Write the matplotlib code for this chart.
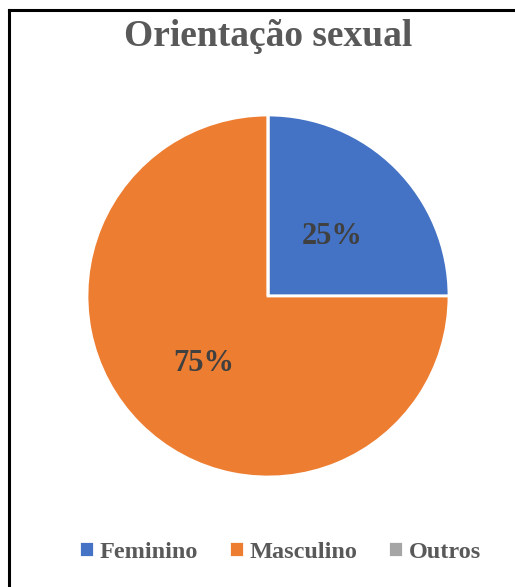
import matplotlib
matplotlib.use("Agg")
import matplotlib.pyplot as plt
from matplotlib.lines import Line2D

categories = ["Feminino", "Masculino", "Outros"]
values = [25, 75, 0]
colors = ["#4472C4", "#ED7D31", "#A5A5A5"]
title = "Orientação sexual"

W, H = 515, 587
fig = plt.figure(figsize=(W/100, H/100), dpi=100)
serif = ["Liberation Serif", "DejaVu Serif"]

# border (top and left lines)
fig.add_artist(Line2D([9/W, 9/W], [0, 1-10/H], color="black", lw=2.2, transform=fig.transFigure))
fig.add_artist(Line2D([9/W, 1], [1-10/H, 1-10/H], color="black", lw=2.2, transform=fig.transFigure))

cx, cy, r = 268, 296, 181
ax = fig.add_axes([(cx-r)/W, (H-cy-r)/H, 2*r/W, 2*r/H])
wedges, texts, autotexts = ax.pie(
    values, colors=colors, startangle=90, counterclock=False,
    autopct=lambda p: f"{p:.0f}%" if p > 0 else "", pctdistance=0.5,
    wedgeprops=dict(edgecolor="white", linewidth=2),
    textprops=dict(fontsize=22, fontweight="bold", color="#404040", family=serif),
)
for t in autotexts:
    x, y = t.get_position()
    t.set_position((x, y - 4/r))
ax.set_xlim(-1, 1); ax.set_ylim(-1, 1)
ax.set_aspect("equal")
ax.axis("off")

fig.text(cx/W, 1-37/H, title, ha="center", va="center", fontsize=27,
         fontweight="bold", color="#595959", family=serif)

leg = fig.legend(wedges, categories, loc="center", bbox_to_anchor=(280/W, 1-552/H),
                 ncol=3, frameon=False, handlelength=0.62, handleheight=0.62,
                 handletextpad=0.25, columnspacing=1.25,
                 prop=dict(family=serif, weight="bold", size=17.5))
for t in leg.get_texts():
    t.set_color("#595959")

fig.savefig("out.png", dpi=100, facecolor="white")
